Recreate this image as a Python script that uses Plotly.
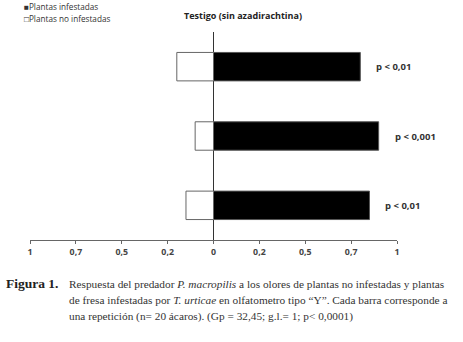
import plotly.graph_objects as go
import numpy as np

# ---- data ----
categories = ["Repetición 1", "Repetición 2", "Repetición 3"]
infestadas = [0.80, 0.90, 0.85]
no_infestadas = [0.20, 0.10, 0.15]
p_labels = ["p < 0,01", "p < 0,001", "p < 0,01"]
tick_vals = [-1, -0.75, -0.5, -0.25, 0, 0.25, 0.5, 0.75, 1]
tick_text = ["1", "0,7", "0,5", "0,2", "0", "0,2", "0,5", "0,7", "1"]

W, H = 463, 342
L, R, T, B = 30, 66.3, 31.75, 101.75
pw, ph = W - L - R, H - T - B

def px_x(p):
    return (p - L) / pw

def px_y(p):
    return (H - B - p) / ph

fig = go.Figure()
fig.add_trace(go.Bar(
    y=categories, x=infestadas, orientation="h", name="Plantas infestadas",
    marker=dict(color="black", line=dict(color="#555555", width=1)), width=0.41,
))
fig.add_trace(go.Bar(
    y=categories, x=-np.array(no_infestadas), orientation="h", name="Plantas no infestadas",
    marker=dict(color="white", line=dict(color="#666666", width=1)), width=0.41,
))

annotations = []
for c, v, lab in zip(categories, infestadas, p_labels):
    annotations.append(dict(x=v, y=c, xref="x", yref="y", text=lab, showarrow=False,
                            xanchor="left", yanchor="middle", xshift=14,
                            font=dict(family="Open Sans", size=9.5, color="#333333", weight="bold")))

annotations.append(dict(x=px_x(243), y=px_y(15), xref="paper", yref="paper",
                        text="<b>Testigo (sin azadirachtina)</b>", showarrow=False,
                        xanchor="center", yanchor="middle",
                        font=dict(family="Open Sans", size=9, color="#222222")))
annotations.append(dict(x=px_x(22), y=px_y(6.5), xref="paper", yref="paper",
                        text="■Plantas infestadas", showarrow=False,
                        xanchor="left", yanchor="middle",
                        font=dict(family="Open Sans", size=8.2, color="#333333")))
annotations.append(dict(x=px_x(22), y=px_y(18.5), xref="paper", yref="paper",
                        text="□Plantas no infestadas", showarrow=False,
                        xanchor="left", yanchor="middle",
                        font=dict(family="Open Sans", size=8.2, color="#333333")))

cap_font = dict(family="Liberation Serif", size=11.3, color="#333333")
annotations.append(dict(x=px_x(4), y=px_y(284), xref="paper", yref="paper",
                        text="<b>Figura 1.</b>", showarrow=False, xanchor="left", yanchor="middle",
                        font=dict(family="Liberation Serif", size=13.5, color="#222222")))
cap_lines = [
    "Respuesta del predador <i>P. macropilis</i> a los olores de plantas no infestadas y plantas",
    "de fresa infestadas por <i>T. urticae</i> en olfatometro tipo “Y”. Cada barra corresponde a",
    "una repetición (n= 20 ácaros). (Gp = 32,45; g.l.= 1; p< 0,0001)",
]
for yy, line in zip([284, 300.5, 316.5], cap_lines):
    annotations.append(dict(x=px_x(67), y=px_y(yy), xref="paper", yref="paper",
                            text=line, showarrow=False, xanchor="left", yanchor="middle",
                            font=cap_font))

fig.update_layout(
    width=W, height=H,
    margin=dict(l=L, r=R, t=T, b=B, pad=0),
    barmode="relative",
    showlegend=False,
    plot_bgcolor="white", paper_bgcolor="white",
    annotations=annotations,
    xaxis=dict(range=[-1, 1], tickvals=tick_vals, ticktext=tick_text,
               showgrid=False, zeroline=True, zerolinecolor="#333333", zerolinewidth=1,
               showline=True, linecolor="#666666", linewidth=1,
               ticks="outside", ticklen=3, tickcolor="#666666",
               tickfont=dict(family="Open Sans", size=8.8, color="#444444", weight="bold")),
    yaxis=dict(categoryorder="array", categoryarray=categories,
               range=[2.5, -0.5], showticklabels=False, showgrid=False, zeroline=False,
               showline=False, ticks=""),
)
fig.update_yaxes(autorange=False, range=[2.5, -0.5])

fig.write_html("out.html", config={"displayModeBar": False},
               post_script="document.body.style.margin='0';document.body.style.overflow='hidden';")
